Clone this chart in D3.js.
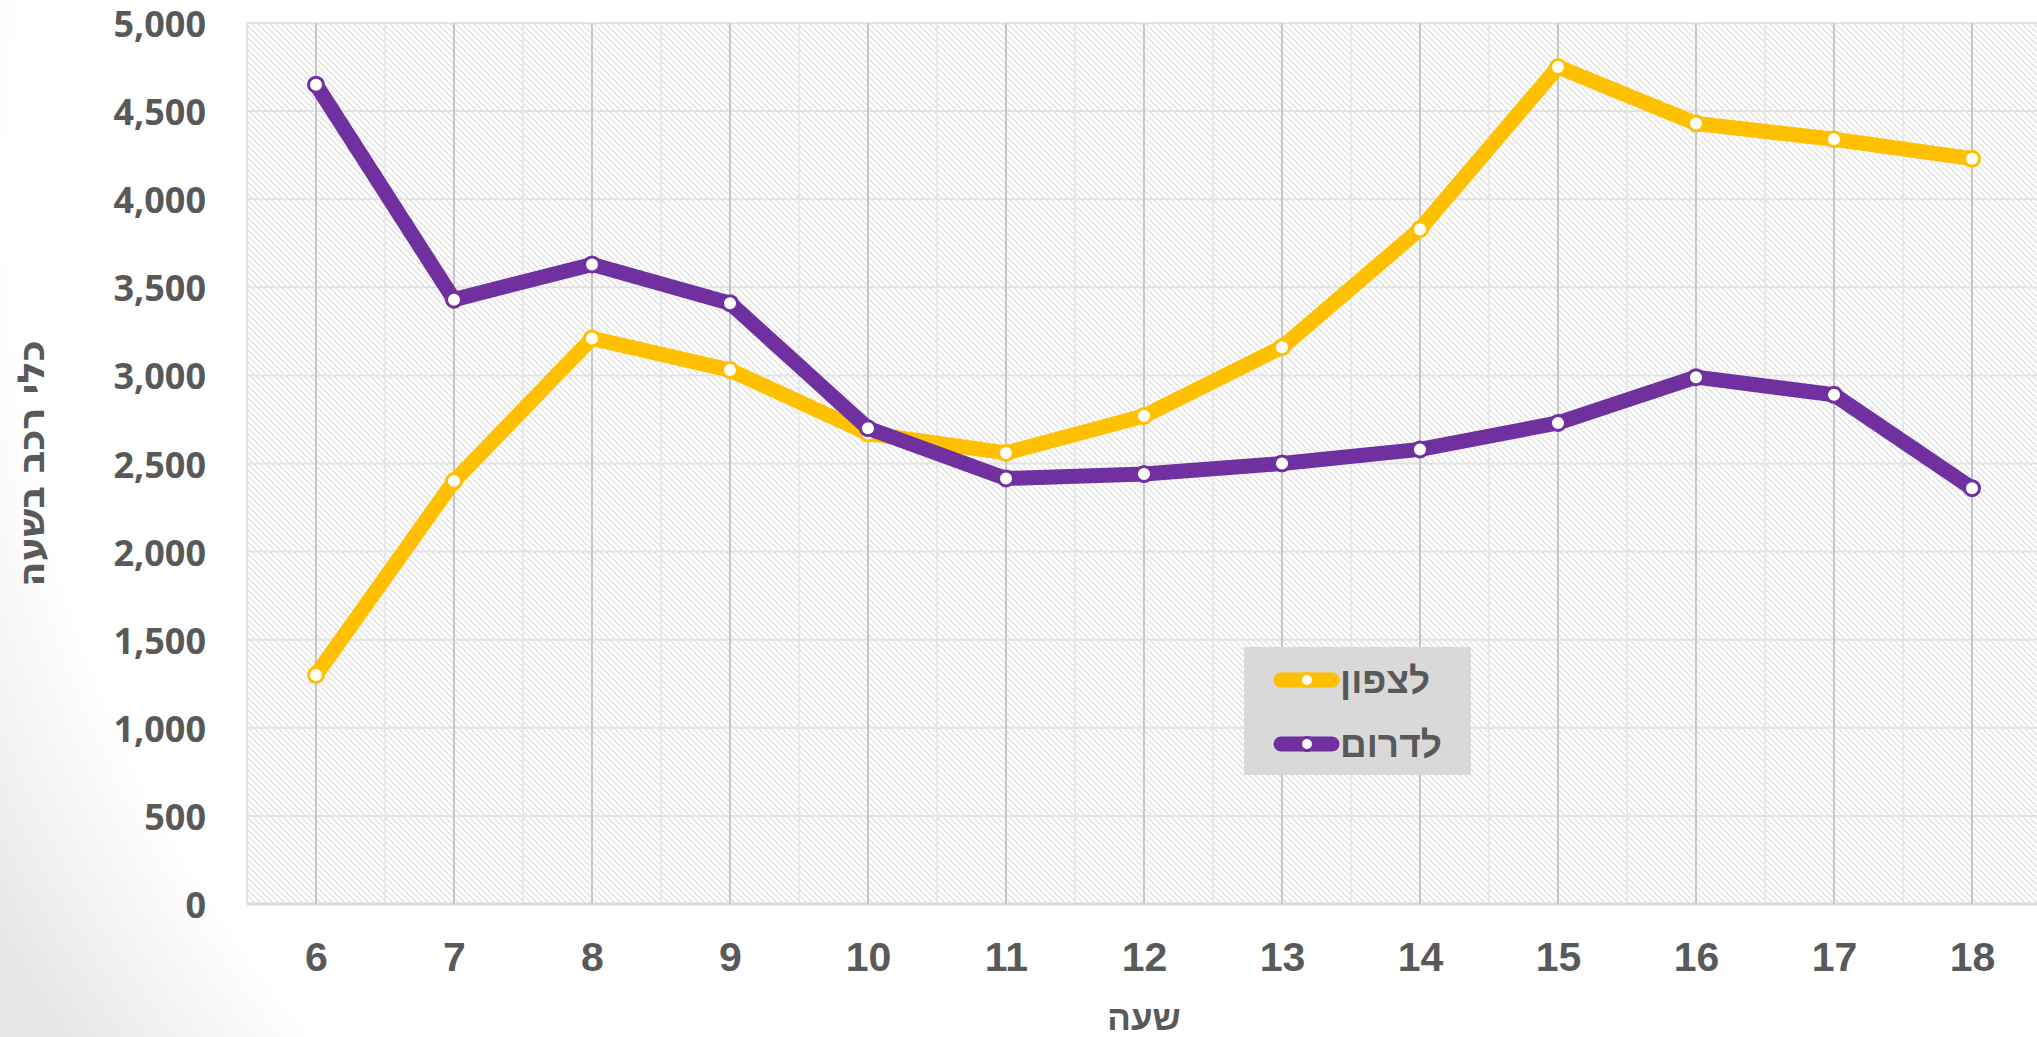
<!DOCTYPE html>
<html>
<head>
<meta charset="utf-8">
<script src="https://cdn.jsdelivr.net/npm/d3@7/dist/d3.min.js"></script>
<style>
  html, body { margin: 0; padding: 0; background: #fff; }
  svg { display: block; }
</style>
</head>
<body>
<svg id="chart" width="2037" height="1037"></svg>
<script>
// ---- data ----
const hours = ["6","7","8","9","10","11","12","13","14","15","16","17","18"];
const northValues = [1300, 2400, 3210, 3030, 2670, 2560, 2770, 3160, 3830, 4750, 4430, 4340, 4230];
const southValues = [4650, 3430, 3630, 3410, 2700, 2415, 2440, 2500, 2580, 2730, 2990, 2890, 2360];
const seriesNames = ["לצפון", "לדרום"];
const yTicks = [0, 500, 1000, 1500, 2000, 2500, 3000, 3500, 4000, 4500, 5000];
const xTitle = "שעה";
const yTitle = "כלי רכב בשעה";

const colors = ["#FFC000", "#7030A0"];
const W = 2037, H = 1037;
const plot = { left: 247, top: 23, right: 2041, bottom: 904 };

const svg = d3.select("#chart");
const defs = svg.append("defs");

// slide background gradient
const rg = defs.append("radialGradient").attr("id", "bg")
  .attr("gradientUnits", "userSpaceOnUse")
  .attr("cx", 1300).attr("cy", 200).attr("r", 1500);
rg.append("stop").attr("offset", 0.86).attr("stop-color", "#ffffff");
rg.append("stop").attr("offset", 1).attr("stop-color", "#e6e6e6");
svg.append("rect").attr("width", W).attr("height", H).attr("fill", "url(#bg)");

// hatch pattern
const pat = defs.append("pattern").attr("id", "hatch")
  .attr("patternUnits", "userSpaceOnUse").attr("width", 6).attr("height", 6);
pat.append("rect").attr("width", 6).attr("height", 6).attr("fill", "#ffffff");
pat.append("path").attr("d", "M-1,-1 L7,7 M-1,5 L1,7 M5,-1 L7,1")
  .attr("stroke", "#dcdcdc").attr("stroke-width", 1.2);

// scales
const x = d3.scalePoint().domain(hours).range([plot.left, plot.right]).padding(0.5);
const y = d3.scaleLinear().domain([0, 5000]).range([plot.bottom, plot.top]);
const step = x.step();

// plot area
svg.append("rect")
  .attr("x", plot.left).attr("y", plot.top)
  .attr("width", plot.right - plot.left).attr("height", plot.bottom - plot.top)
  .attr("fill", "url(#hatch)");

// minor vertical gridlines (band edges)
const edges = hours.map(h => x(h) - step / 2).concat([x(hours[hours.length - 1]) + step / 2]);
svg.append("g").selectAll("line").data(edges.slice(1)).join("line")
  .attr("x1", d => d).attr("x2", d => d)
  .attr("y1", plot.top).attr("y2", plot.bottom)
  .attr("stroke", "#e8e8e8").attr("stroke-width", 2);

// horizontal gridlines
svg.append("g").selectAll("line").data(yTicks).join("line")
  .attr("x1", plot.left).attr("x2", plot.right)
  .attr("y1", d => y(d)).attr("y2", d => y(d))
  .attr("stroke", d => d === 0 ? "#d9d9d9" : "#e3e3e3")
  .attr("stroke-width", d => d === 0 ? 3 : 2);

// major vertical gridlines
svg.append("g").selectAll("line").data(hours).join("line")
  .attr("x1", d => x(d)).attr("x2", d => x(d))
  .attr("y1", plot.top).attr("y2", plot.bottom)
  .attr("stroke", "#c6c6c6").attr("stroke-width", 2);

// left border
svg.append("line").attr("x1", plot.left).attr("x2", plot.left)
  .attr("y1", plot.top).attr("y2", plot.bottom)
  .attr("stroke", "#e3e3e3").attr("stroke-width", 2);

// y axis labels
const yAxis = d3.axisLeft(y).tickValues(yTicks).tickSize(0).tickPadding(0)
  .tickFormat(d3.format(","));
const yg = svg.append("g").attr("transform", `translate(${206},0)`).call(yAxis);
yg.select(".domain").remove();
yg.selectAll("text")
  .attr("x", 0).attr("dy", null)
  .attr("dominant-baseline", "central")
  .attr("fill", "#595959")
  .style("font-family", "'Open Sans', 'DejaVu Sans', sans-serif")
  .style("font-weight", 700).style("font-size", "36px");

// x axis labels
const xAxis = d3.axisBottom(x).tickSize(0).tickPadding(0);
const xg = svg.append("g").attr("transform", `translate(0,${957})`).call(xAxis);
xg.select(".domain").remove();
xg.selectAll("text")
  .attr("y", 0).attr("dy", null)
  .attr("dominant-baseline", "central")
  .attr("fill", "#595959")
  .style("font-family", "'Liberation Sans', Arial, sans-serif")
  .style("font-weight", 700).style("font-size", "41px");

// axis titles
svg.append("text")
  .attr("x", (plot.left + plot.right) / 2).attr("y", 1017)
  .attr("text-anchor", "middle").attr("dominant-baseline", "central")
  .attr("fill", "#595959")
  .style("font-family", "'Liberation Sans', Arial, 'DejaVu Sans', sans-serif")
  .style("font-weight", 700).style("font-size", "35px")
  .text(xTitle);

svg.append("text")
  .attr("transform", `translate(31,${(plot.top + plot.bottom) / 2}) rotate(-90)`)
  .attr("text-anchor", "middle").attr("dominant-baseline", "central")
  .attr("fill", "#595959")
  .style("font-family", "'DejaVu Sans', 'Liberation Sans', sans-serif")
  .style("font-weight", 700).style("font-size", "37px")
  .text(yTitle);

// series
const series = [northValues, southValues];
const line = d3.line().x((d, i) => x(hours[i])).y(d => y(d));
series.forEach((vals, si) => {
  const g = svg.append("g");
  g.append("path").datum(vals)
    .attr("d", line)
    .attr("fill", "none")
    .attr("stroke", colors[si])
    .attr("stroke-width", 15)
    .attr("stroke-linejoin", "round")
    .attr("stroke-linecap", "round");
  g.selectAll("circle").data(vals).join("circle")
    .attr("cx", (d, i) => x(hours[i])).attr("cy", d => y(d))
    .attr("r", 7.5)
    .attr("fill", "#ffffff")
    .attr("stroke", colors[si]).attr("stroke-width", 3);
});

// legend
const lg = svg.append("g");
lg.append("rect").attr("x", 1244).attr("y", 647).attr("width", 227).attr("height", 128)
  .attr("fill", "#d9d9d9");
const legendY = [680, 744];
seriesNames.forEach((name, i) => {
  lg.append("line")
    .attr("x1", 1281).attr("x2", 1332)
    .attr("y1", legendY[i]).attr("y2", legendY[i])
    .attr("stroke", colors[i]).attr("stroke-width", 15)
    .attr("stroke-linecap", "round");
  lg.append("circle").attr("cx", 1307).attr("cy", legendY[i]).attr("r", 6.5)
    .attr("fill", "#fff").attr("stroke", colors[i]).attr("stroke-width", 3);
  lg.append("text")
    .attr("x", 1340).attr("y", legendY[i])
    .attr("text-anchor", "start").attr("dominant-baseline", "central")
    .attr("fill", "#595959")
    .style("font-family", "'Liberation Sans', Arial, 'DejaVu Sans', sans-serif")
    .style("font-weight", 700).style("font-size", "37px")
    .text(name);
});
</script>
</body>
</html>
